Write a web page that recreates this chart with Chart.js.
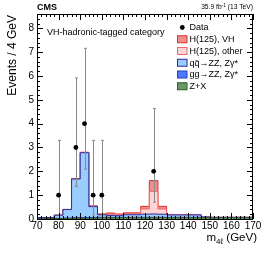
<!DOCTYPE html>
<html>
<head>
<meta charset="utf-8">
<script src="https://cdn.jsdelivr.net/npm/chart.js@4.4.1/dist/chart.umd.min.js"></script>
<style>
  html, body { margin: 0; padding: 0; background: #fff; }
  #c { display: block; }
</style>
</head>
<body>
<canvas id="c" width="266" height="253"></canvas>
<script>
// bin edges of the m4l histogram (GeV), 4 GeV bins
const binEdges = [70, 74, 78, 82, 86, 90, 94, 98, 102, 106, 110, 114, 118, 122, 126, 130, 134, 138, 142, 146, 150, 154, 158, 162, 166, 170];

// expected events per bin
const zxValues     = [0.01, 0.01, 0.02, 0.02, 0.03, 0.03, 0.04, 0.05, 0.05, 0.05, 0.05, 0.05, 0.05, 0.05, 0.05, 0.05, 0.05, 0.05, 0.05, 0.05, 0.05, 0.05, 0.05, 0.05, 0.05];
const ggValues     = [0.01, 0.01, 0.01, 0.02, 0.03, 0.03, 0.02, 0.02, 0.02, 0.02, 0.02, 0.02, 0.02, 0.02, 0.02, 0.02, 0.02, 0.02, 0.02, 0.02, 0.01, 0.01, 0.01, 0.01, 0.01];
const qqValues     = [0.04, 0.04, 0.13, 0.36, 1.62, 2.72, 0.46, 0.11, 0.08, 0.07, 0.11, 0.11, 0.13, 0.14, 0.13, 0.10, 0.10, 0.10, 0.10, 0.01, 0.01, 0.01, 0.01, 0.01, 0.01];
const hOtherValues = [0, 0, 0, 0, 0.01, 0.01, 0.02, 0.02, 0.05, 0.04, 0.04, 0.04, 0.22, 0.94, 0.22, 0.01, 0.01, 0.01, 0.01, 0, 0, 0, 0, 0, 0];
const hVHValues    = [0, 0, 0, 0, 0.01, 0.01, 0.01, 0.01, 0.05, 0.03, 0.04, 0.04, 0.11, 0.46, 0.11, 0.01, 0, 0, 0, 0, 0, 0, 0, 0, 0];

// observed events (bin centres) and Poisson intervals
const dataMass    = [80, 88, 92, 96, 100, 124];
const dataCounts  = [1, 3, 4, 1, 1, 2];
const dataErrLow  = [0.17, 1.37, 2.09, 0.17, 0.17, 0.71];
const dataErrHigh = [3.30, 5.92, 7.16, 3.30, 3.30, 4.64];

const xTicks = [70, 80, 90, 100, 110, 120, 130, 140, 150, 160, 170];
const yTicks = [0, 1, 2, 3, 4, 5, 6, 7, 8];

const FONT = "'Liberation Sans', Arial, Helvetica, sans-serif";

function steps(vals) {
  return binEdges.map((e, i) => ({ x: e, y: vals[Math.min(i, vals.length - 1)] }));
}

function hist(label, vals, fillColor, lineColor, fillTo) {
  return {
    type: 'line',
    label: label,
    data: steps(vals),
    stack: 'mc',
    stepped: 'before',
    fill: fillTo,
    backgroundColor: fillColor,
    borderColor: lineColor,
    borderWidth: 1,
    pointRadius: 0,
    tension: 0
  };
}

const datasets = [
  {
    type: 'line',
    label: 'Data',
    data: dataMass.map((m, i) => ({ x: m, y: dataCounts[i] })),
    stack: 'data',
    showLine: false,
    pointRadius: 2.4,
    pointBackgroundColor: '#000',
    pointBorderColor: '#000',
    pointBorderWidth: 0
  },
  hist('Z+X', zxValues, '#669966', '#2e5e2e', 'origin'),
  hist('gg\u2192ZZ, Z\u03b3*', ggValues, '#4d79ff', '#2a3fbf', '-1'),
  hist('q\u0071\u0304\u2192ZZ, Z\u03b3*', qqValues, '#99ccff', '#2c2c99', '-1'),
  hist('H(125), other', hOtherValues, '#ffd4d4', '#ee6666', '-1'),
  hist('H(125), VH', hVHValues, '#f08c8c', '#dd3333', '-1')
];

// legend order as in the figure
const legendOrder = ['Data', 'H(125), VH', 'H(125), other', 'q\u0071\u0304\u2192ZZ, Z\u03b3*', 'gg\u2192ZZ, Z\u03b3*', 'Z+X'];

const rootStyle = {
  id: 'rootStyle',
  beforeDatasetDraw(chart, args) {
    if (args.index !== 0) return;
    const { ctx, scales: { x, y } } = chart;
    ctx.save();
    ctx.strokeStyle = '#8a8a8a';
    ctx.lineWidth = 1;
    dataMass.forEach((m, i) => {
      const px = Math.round(x.getPixelForValue(m)) + 0.5;
      const y0 = y.getPixelForValue(dataErrLow[i]);
      const y1 = y.getPixelForValue(dataErrHigh[i]);
      ctx.beginPath();
      ctx.moveTo(px, y0);
      ctx.lineTo(px, y1);
      ctx.moveTo(px - 1.5, y1);
      ctx.lineTo(px + 1.5, y1);
      ctx.moveTo(px - 1.5, y0);
      ctx.lineTo(px + 1.5, y0);
      ctx.stroke();
    });
    ctx.restore();
  },
  afterDraw(chart) {
    const { ctx, chartArea: a, scales: { x, y } } = chart;
    ctx.save();
    // frame
    ctx.strokeStyle = '#000';
    ctx.lineWidth = 1;
    ctx.strokeRect(Math.round(a.left) + 0.5, Math.round(a.top) + 0.5,
      Math.round(a.right - a.left) - 1, Math.round(a.bottom - a.top));

    // inward ticks on all four sides
    ctx.beginPath();
    for (let i = 0; i < xTicks.length; i++) {
      const px = Math.round(x.getPixelForValue(xTicks[i])) + 0.5;
      ctx.moveTo(px, a.bottom); ctx.lineTo(px, a.bottom - 6);
      ctx.moveTo(px, a.top); ctx.lineTo(px, a.top + 6);
      if (i < xTicks.length - 1) {
        const step = (xTicks[i + 1] - xTicks[i]) / 5;
        for (let k = 1; k < 5; k++) {
          const mx = Math.round(x.getPixelForValue(xTicks[i] + k * step)) + 0.5;
          ctx.moveTo(mx, a.bottom); ctx.lineTo(mx, a.bottom - 3);
          ctx.moveTo(mx, a.top); ctx.lineTo(mx, a.top + 3);
        }
      }
    }
    for (let i = 0; i < yTicks.length; i++) {
      const py = Math.round(y.getPixelForValue(yTicks[i])) + 0.5;
      ctx.moveTo(a.left, py); ctx.lineTo(a.left + 6, py);
      ctx.moveTo(a.right, py); ctx.lineTo(a.right - 6, py);
      const step = (yTicks[1] - yTicks[0]) / 5;
      for (let k = 1; k < 5; k++) {
        const v = yTicks[i] + k * step;
        if (v > y.max) break;
        const my = Math.round(y.getPixelForValue(v)) + 0.5;
        ctx.moveTo(a.left, my); ctx.lineTo(a.left + 3, my);
        ctx.moveTo(a.right, my); ctx.lineTo(a.right - 3, my);
      }
    }
    ctx.stroke();

    ctx.fillStyle = '#000';
    // CMS label and luminosity
    ctx.textBaseline = 'alphabetic';
    ctx.textAlign = 'left';
    ctx.font = 'bold 9px ' + FONT;
    ctx.fillText('CMS', a.left, 9.5);
    ctx.font = '6.7px ' + FONT;
    ctx.textAlign = 'right';
    const tail = ' (13 TeV)';
    ctx.fillText(tail, a.right, 9);
    let rx = a.right - ctx.measureText(tail).width;
    ctx.font = '4.8px ' + FONT;
    ctx.fillText('-1', rx, 6.5);
    rx -= ctx.measureText('-1').width;
    ctx.font = '6.7px ' + FONT;
    ctx.fillText('35.9 fb', rx, 9);

    // category label
    ctx.textAlign = 'left';
    ctx.font = '9px ' + FONT;
    ctx.fillText('VH-hadronic-tagged category', 47, 34.5);

    // y title
    ctx.save();
    ctx.translate(12.5, 15);
    ctx.rotate(-Math.PI / 2);
    ctx.font = '12px ' + FONT;
    ctx.textAlign = 'right';
    ctx.textBaseline = 'middle';
    ctx.fillText('Events / 4 GeV', 0, 0);
    ctx.restore();

    // x title: m_{4l} (GeV), right aligned
    ctx.textAlign = 'left';
    ctx.textBaseline = 'alphabetic';
    ctx.font = '11.5px ' + FONT;
    const wM = ctx.measureText('m').width;
    const wG = ctx.measureText(' (GeV)').width;
    ctx.font = '8px ' + FONT;
    const wS = ctx.measureText('4\u2113').width;
    let tx = 257 - (wM + wS + wG);
    ctx.font = '11.5px ' + FONT;
    ctx.fillText('m', tx, 241);
    tx += wM;
    ctx.font = '8px ' + FONT;
    ctx.fillText('4\u2113', tx, 244);
    tx += wS;
    ctx.font = '11.5px ' + FONT;
    ctx.fillText(' (GeV)', tx, 241);

    // legend
    ctx.font = '9px ' + FONT;
    ctx.textBaseline = 'middle';
    legendOrder.forEach((name, i) => {
      const ds = chart.data.datasets.find(d => d.label === name);
      const cy = 27.5 + i * 11.75;
      if (name === 'Data') {
        ctx.beginPath();
        ctx.arc(182.3, cy, 2.4, 0, Math.PI * 2);
        ctx.fillStyle = '#000';
        ctx.fill();
      } else {
        ctx.fillStyle = ds.backgroundColor;
        ctx.fillRect(177.5, cy - 3.5, 9.5, 7);
        ctx.strokeStyle = ds.borderColor;
        ctx.strokeRect(177.5, cy - 3.5, 9.5, 7);
      }
      ctx.fillStyle = '#000';
      ctx.fillText(name, 189.5, cy + 0.5);
    });
    ctx.restore();
  }
};

new Chart(document.getElementById('c').getContext('2d'), {
  type: 'line',
  data: { datasets: datasets },
  options: {
    responsive: false,
    animation: false,
    devicePixelRatio: 1,
    layout: { padding: { top: 14, right: 13, left: 0, bottom: 0 } },
    plugins: {
      legend: { display: false },
      tooltip: { enabled: false }
    },
    scales: {
      x: {
        type: 'linear',
        min: 70,
        max: 170,
        grid: { display: false, drawTicks: false },
        border: { display: false },
        afterBuildTicks: s => { s.ticks = xTicks.map(v => ({ value: v })); },
        afterFit: s => { s.height = 34; },
        ticks: {
          color: '#000',
          padding: 1,
          maxRotation: 0,
          autoSkip: false,
          font: { family: FONT, size: 10 }
        }
      },
      y: {
        type: 'linear',
        stacked: true,
        min: 0,
        max: 8.6,
        grid: { display: false, drawTicks: false },
        border: { display: false },
        afterBuildTicks: s => { s.ticks = yTicks.map(v => ({ value: v })); },
        afterFit: s => { s.width = 37; },
        ticks: {
          color: '#000',
          padding: 3,
          font: { family: FONT, size: 10 }
        }
      }
    }
  },
  plugins: [rootStyle]
});
</script>
</body>
</html>
